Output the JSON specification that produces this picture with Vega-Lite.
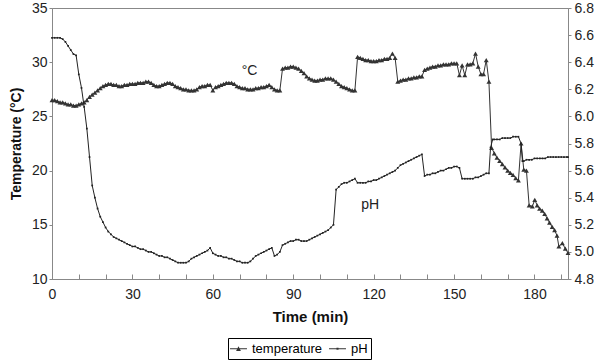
{
  "$schema": "https://vega.github.io/schema/vega-lite/v6.json",
  "width": 516,
  "height": 271,
  "autosize": {"type": "none"},
  "padding": {"left": 52, "top": 8, "right": 32, "bottom": 81},
  "config": {
    "font": "Liberation Sans",
    "view": {"stroke": "#888", "strokeWidth": 1},
    "axis": {"grid": false, "domainColor": "#888", "tickColor": "#888", "labelColor": "#222", "labelFontSize": 14, "titleColor": "#111", "titleFontSize": 14, "titleFontWeight": "bold"},
    "legend": {"strokeColor": "#000", "strokeWidth": 1, "padding": 3, "symbolFillColor": "#333", "symbolStrokeWidth": 0, "symbolOpacity": 1}
  },
  "datasets": {
    "temp": [
      {"t":0,"v":26.5},{"t":1,"v":26.5},{"t":2,"v":26.4},{"t":3,"v":26.3},{"t":4,"v":26.3},{"t":5,"v":26.2},{"t":6,"v":26.1},{"t":7,"v":26.1},{"t":8,"v":26.0},{"t":9,"v":26.0},
      {"t":10,"v":26.1},{"t":11,"v":26.2},{"t":12,"v":26.3},{"t":13,"v":26.5},{"t":14,"v":26.8},{"t":15,"v":27.0},{"t":16,"v":27.2},{"t":17,"v":27.4},{"t":18,"v":27.6},{"t":19,"v":27.8},
      {"t":20,"v":27.9},{"t":21,"v":28.0},{"t":22,"v":28.0},{"t":23,"v":27.9},{"t":24,"v":27.9},{"t":25,"v":27.8},{"t":26,"v":27.8},{"t":27,"v":27.9},{"t":28,"v":27.9},{"t":29,"v":28.0},
      {"t":30,"v":28.0},{"t":31,"v":28.0},{"t":32,"v":28.1},{"t":33,"v":28.1},{"t":34,"v":28.1},{"t":35,"v":28.2},{"t":36,"v":28.2},{"t":37,"v":28.1},{"t":38,"v":27.9},{"t":39,"v":27.8},
      {"t":40,"v":27.8},{"t":41,"v":27.9},{"t":42,"v":28.0},{"t":43,"v":28.1},{"t":44,"v":28.1},{"t":45,"v":28.0},{"t":46,"v":27.8},{"t":47,"v":27.7},{"t":48,"v":27.6},{"t":49,"v":27.5},
      {"t":50,"v":27.5},{"t":51,"v":27.4},{"t":52,"v":27.4},{"t":53,"v":27.4},{"t":54,"v":27.5},{"t":55,"v":27.7},{"t":56,"v":27.8},{"t":57,"v":27.8},{"t":58,"v":27.9},{"t":59,"v":27.9},
      {"t":60,"v":27.4},{"t":61,"v":27.7},{"t":62,"v":27.8},{"t":63,"v":27.9},{"t":64,"v":28.0},{"t":65,"v":28.1},{"t":66,"v":28.1},{"t":67,"v":28.1},{"t":68,"v":28.0},{"t":69,"v":27.8},
      {"t":70,"v":27.7},{"t":71,"v":27.6},{"t":72,"v":27.6},{"t":73,"v":27.5},{"t":74,"v":27.5},{"t":75,"v":27.5},{"t":76,"v":27.6},{"t":77,"v":27.6},{"t":78,"v":27.7},{"t":79,"v":27.7},
      {"t":80,"v":27.8},{"t":81,"v":27.9},{"t":82,"v":27.7},{"t":83,"v":27.5},{"t":84,"v":27.4},{"t":85,"v":27.4},{"t":86,"v":29.4},{"t":87,"v":29.5},{"t":88,"v":29.5},{"t":89,"v":29.6},
      {"t":90,"v":29.6},{"t":91,"v":29.5},{"t":92,"v":29.4},{"t":93,"v":29.2},{"t":94,"v":29.0},{"t":95,"v":28.7},{"t":96,"v":28.5},{"t":97,"v":28.4},{"t":98,"v":28.3},{"t":99,"v":28.3},
      {"t":100,"v":28.4},{"t":101,"v":28.4},{"t":102,"v":28.5},{"t":103,"v":28.5},{"t":104,"v":28.5},{"t":105,"v":28.4},{"t":106,"v":28.2},{"t":107,"v":28.0},{"t":108,"v":27.8},{"t":109,"v":27.7},
      {"t":110,"v":27.6},{"t":111,"v":27.5},{"t":112,"v":27.4},{"t":113,"v":27.4},{"t":114,"v":30.5},{"t":115,"v":30.4},{"t":116,"v":30.3},{"t":117,"v":30.2},{"t":118,"v":30.2},{"t":119,"v":30.1},
      {"t":120,"v":30.1},{"t":121,"v":30.1},{"t":122,"v":30.2},{"t":123,"v":30.2},{"t":124,"v":30.3},{"t":125,"v":30.3},{"t":126,"v":30.4},{"t":127,"v":30.8},{"t":128,"v":30.4},{"t":129,"v":28.2},
      {"t":130,"v":28.3},{"t":131,"v":28.4},{"t":132,"v":28.4},{"t":133,"v":28.5},{"t":134,"v":28.5},{"t":135,"v":28.6},{"t":136,"v":28.6},{"t":137,"v":28.7},{"t":138,"v":28.7},{"t":139,"v":29.3},
      {"t":140,"v":29.4},{"t":141,"v":29.5},{"t":142,"v":29.6},{"t":143,"v":29.6},{"t":144,"v":29.7},{"t":145,"v":29.7},{"t":146,"v":29.8},{"t":147,"v":29.8},{"t":148,"v":29.8},{"t":149,"v":29.9},
      {"t":150,"v":29.9},{"t":151,"v":29.9},{"t":152,"v":28.8},{"t":153,"v":29.7},{"t":154,"v":28.8},{"t":155,"v":29.8},{"t":156,"v":29.8},{"t":157,"v":29.9},{"t":158,"v":30.8},{"t":159,"v":29.6},
      {"t":160,"v":28.9},{"t":161,"v":28.9},{"t":162,"v":30.2},{"t":163,"v":28.2},{"t":164,"v":22.1},{"t":165,"v":21.6},{"t":166,"v":21.2},{"t":167,"v":20.9},{"t":168,"v":20.6},{"t":169,"v":20.3},
      {"t":170,"v":20.0},{"t":171,"v":19.8},{"t":172,"v":19.6},{"t":173,"v":19.3},{"t":174,"v":19.1},{"t":175,"v":22.5},{"t":176,"v":20.1},{"t":177,"v":20.0},{"t":178,"v":16.8},{"t":179.2,"v":16.7},
      {"t":180.1,"v":17.3},{"t":181,"v":16.8},{"t":181.9,"v":16.5},{"t":182.9,"v":16.3},{"t":183.8,"v":16.0},{"t":184.7,"v":15.6},{"t":185.6,"v":15.2},{"t":186.6,"v":14.8},{"t":187.5,"v":14.5},{"t":188.4,"v":14.0},
      {"t":189.1,"v":13.0},{"t":190.4,"v":13.3},{"t":191.5,"v":12.8},{"t":192.5,"v":12.4}
    ],
    "ph": [
      {"t":0,"v":6.58},{"t":1,"v":6.58},{"t":2,"v":6.58},{"t":3,"v":6.58},{"t":4,"v":6.57},{"t":5,"v":6.55},{"t":6,"v":6.52},{"t":7,"v":6.49},{"t":8,"v":6.46},{"t":9,"v":6.45},
      {"t":10,"v":6.31},{"t":11,"v":6.21},{"t":12,"v":6.07},{"t":13,"v":5.91},{"t":14,"v":5.70},{"t":15,"v":5.49},{"t":16,"v":5.40},{"t":17,"v":5.32},{"t":18,"v":5.26},{"t":19,"v":5.22},
      {"t":20,"v":5.18},{"t":21,"v":5.15},{"t":22,"v":5.13},{"t":23,"v":5.11},{"t":24,"v":5.10},{"t":25,"v":5.09},{"t":26,"v":5.08},{"t":27,"v":5.07},{"t":28,"v":5.06},{"t":29,"v":5.05},
      {"t":30,"v":5.04},{"t":31,"v":5.04},{"t":32,"v":5.03},{"t":33,"v":5.02},{"t":34,"v":5.02},{"t":35,"v":5.01},{"t":36,"v":5.00},{"t":37,"v":5.00},{"t":38,"v":4.99},{"t":39,"v":4.98},
      {"t":40,"v":4.97},{"t":41,"v":4.97},{"t":42,"v":4.96},{"t":43,"v":4.96},{"t":44,"v":4.95},{"t":45,"v":4.94},{"t":46,"v":4.93},{"t":47,"v":4.92},{"t":48,"v":4.92},{"t":49,"v":4.92},
      {"t":50,"v":4.92},{"t":51,"v":4.93},{"t":52,"v":4.95},{"t":53,"v":4.96},{"t":54,"v":4.97},{"t":55,"v":4.98},{"t":56,"v":4.99},{"t":57,"v":5.00},{"t":58,"v":5.01},{"t":59,"v":5.03},
      {"t":60,"v":4.99},{"t":61,"v":4.98},{"t":62,"v":4.97},{"t":63,"v":4.97},{"t":64,"v":4.96},{"t":65,"v":4.96},{"t":66,"v":4.95},{"t":67,"v":4.95},{"t":68,"v":4.94},{"t":69,"v":4.93},
      {"t":70,"v":4.93},{"t":71,"v":4.92},{"t":72,"v":4.92},{"t":73,"v":4.92},{"t":74,"v":4.93},{"t":75,"v":4.95},{"t":76,"v":4.97},{"t":77,"v":4.98},{"t":78,"v":4.99},{"t":79,"v":5.00},
      {"t":80,"v":5.01},{"t":81,"v":5.02},{"t":82,"v":5.03},{"t":83,"v":4.97},{"t":84,"v":4.98},{"t":85,"v":5.00},{"t":86,"v":5.05},{"t":87,"v":5.06},{"t":88,"v":5.07},{"t":89,"v":5.08},
      {"t":90,"v":5.08},{"t":91,"v":5.09},{"t":92,"v":5.09},{"t":93,"v":5.08},{"t":94,"v":5.08},{"t":95,"v":5.08},{"t":96,"v":5.09},{"t":97,"v":5.10},{"t":98,"v":5.11},{"t":99,"v":5.12},
      {"t":100,"v":5.13},{"t":101,"v":5.14},{"t":102,"v":5.15},{"t":103,"v":5.16},{"t":104,"v":5.18},{"t":105,"v":5.20},{"t":106,"v":5.46},{"t":107,"v":5.48},{"t":108,"v":5.50},{"t":109,"v":5.51},
      {"t":110,"v":5.51},{"t":111,"v":5.52},{"t":112,"v":5.53},{"t":113,"v":5.54},{"t":114,"v":5.51},{"t":115,"v":5.51},{"t":116,"v":5.51},{"t":117,"v":5.51},{"t":118,"v":5.52},{"t":119,"v":5.52},
      {"t":120,"v":5.53},{"t":121,"v":5.53},{"t":122,"v":5.54},{"t":123,"v":5.55},{"t":124,"v":5.56},{"t":125,"v":5.57},{"t":126,"v":5.58},{"t":127,"v":5.59},{"t":128,"v":5.60},{"t":129,"v":5.62},
      {"t":130,"v":5.64},{"t":131,"v":5.65},{"t":132,"v":5.66},{"t":133,"v":5.67},{"t":134,"v":5.68},{"t":135,"v":5.69},{"t":136,"v":5.70},{"t":137,"v":5.71},{"t":138,"v":5.72},{"t":139,"v":5.56},
      {"t":140,"v":5.57},{"t":141,"v":5.57},{"t":142,"v":5.58},{"t":143,"v":5.58},{"t":144,"v":5.59},{"t":145,"v":5.60},{"t":146,"v":5.60},{"t":147,"v":5.61},{"t":148,"v":5.62},{"t":149,"v":5.62},
      {"t":150,"v":5.63},{"t":151,"v":5.63},{"t":152,"v":5.62},{"t":153,"v":5.54},{"t":154,"v":5.54},{"t":155,"v":5.54},{"t":156,"v":5.54},{"t":157,"v":5.54},{"t":158,"v":5.55},{"t":159,"v":5.55},
      {"t":160,"v":5.56},{"t":161,"v":5.57},{"t":162,"v":5.58},{"t":163,"v":5.58},{"t":163.6,"v":5.77},{"t":164.4,"v":5.83},{"t":165,"v":5.83},{"t":166,"v":5.83},{"t":167,"v":5.83},{"t":168,"v":5.84},
      {"t":169,"v":5.84},{"t":170,"v":5.84},{"t":171,"v":5.84},{"t":172,"v":5.85},{"t":173,"v":5.85},{"t":174,"v":5.85},{"t":175,"v":5.80},{"t":175.5,"v":5.67},{"t":176,"v":5.67},{"t":177,"v":5.68},
      {"t":178,"v":5.68},{"t":179,"v":5.68},{"t":180,"v":5.69},{"t":181,"v":5.69},{"t":182,"v":5.69},{"t":183,"v":5.69},{"t":184,"v":5.69},{"t":185,"v":5.70},{"t":186,"v":5.70},{"t":187,"v":5.70},
      {"t":188,"v":5.70},{"t":189,"v":5.70},{"t":190,"v":5.70},{"t":191,"v":5.70},{"t":192,"v":5.70},{"t":192.5,"v":5.70}
    ],
    "notes": [{"label": "°C", "t": 73.7, "v": 29.2}, {"label": "pH", "t": 118.7, "v": 16.8}]
  },
  "encoding": {
    "x": {
      "field": "t", "type": "quantitative",
      "scale": {"domain": [0, 192.5], "nice": false, "zero": false},
      "axis": {
        "title": "Time (min)", "titleFontSize": 15, "titlePadding": 8,
        "values": [0,10,20,30,40,50,60,70,80,90,100,110,120,130,140,150,160,170,180,190],
        "labelExpr": "datum.value % 30 === 0 ? datum.label : ''",
        "tickSize": -5, "labelPadding": 13, "labelFlush": false, "labelOverlap": false
      }
    }
  },
  "layer": [
    {
      "data": {"name": "temp"},
      "encoding": {
        "y": {
          "field": "v", "type": "quantitative",
          "scale": {"domain": [10, 35], "nice": false, "zero": false},
          "axis": {"title": "Temperature (°C)", "values": [10,15,20,25,30,35], "tickSize": 3, "labelPadding": 2, "titlePadding": 8}
        }
      },
      "layer": [
        {"mark": {"type": "line", "color": "#333", "strokeWidth": 1}},
        {"mark": {"type": "point", "shape": "triangle-up", "filled": true, "color": "#333", "size": 24, "opacity": 1}},
        {
          "mark": {"type": "point", "filled": true, "color": "#333", "opacity": 0},
          "encoding": {
            "shape": {
              "datum": "temperature",
              "scale": {"domain": ["temperature", "pH"], "range": ["M-1.13,-0.07H1.13V0.07H-1.13ZM-0.32,0.3L0,-0.34L0.32,0.3Z", "M-1.13,-0.07H1.13V0.07H-1.13ZM-0.14,-0.14H0.14V0.14H-0.14Z"]},
              "legend": {
                "title": null, "orient": "none", "legendX": 176, "legendY": 330, "direction": "horizontal",
                "padding": 3, "symbolSize": 225, "strokeColor": "#000",
                "symbolFillColor": "#333", "symbolStrokeWidth": 0, "symbolOpacity": 1,
                "labelFontSize": 13, "labelColor": "#000", "labelOffset": 6, "columnPadding": 6,
                "encode": {
                  "symbols": {"update": {"fill": {"value": "#333"}, "fillOpacity": {"value": 1}, "opacity": {"value": 1}, "strokeWidth": {"value": 0}}}
                }
              }
            }
          }
        },
        {
          "data": {"name": "notes"},
          "mark": {"type": "text", "fontSize": 14, "color": "#222"},
          "encoding": {"x": {"field": "t", "type": "quantitative"}, "y": {"field": "v", "type": "quantitative"}, "text": {"field": "label"}}
        }
      ]
    },
    {
      "data": {"name": "ph"},
      "encoding": {
        "y": {
          "field": "v", "type": "quantitative",
          "scale": {"domain": [4.8, 6.8], "nice": false, "zero": false},
          "axis": {"title": null, "orient": "right", "values": [4.8,5.0,5.2,5.4,5.6,5.8,6.0,6.2,6.4,6.6,6.8], "format": ".1f", "tickSize": 3, "labelPadding": 3}
        }
      },
      "layer": [
        {"mark": {"type": "line", "color": "#222", "strokeWidth": 1}},
        {"mark": {"type": "point", "shape": "square", "filled": true, "color": "#222", "size": 3, "opacity": 1}},
        {
          "mark": {"type": "point", "filled": true, "color": "#333", "opacity": 0},
          "encoding": {"shape": {"datum": "pH"}}
        }
      ]
    }
  ],
  "resolve": {"scale": {"y": "independent"}}
}
